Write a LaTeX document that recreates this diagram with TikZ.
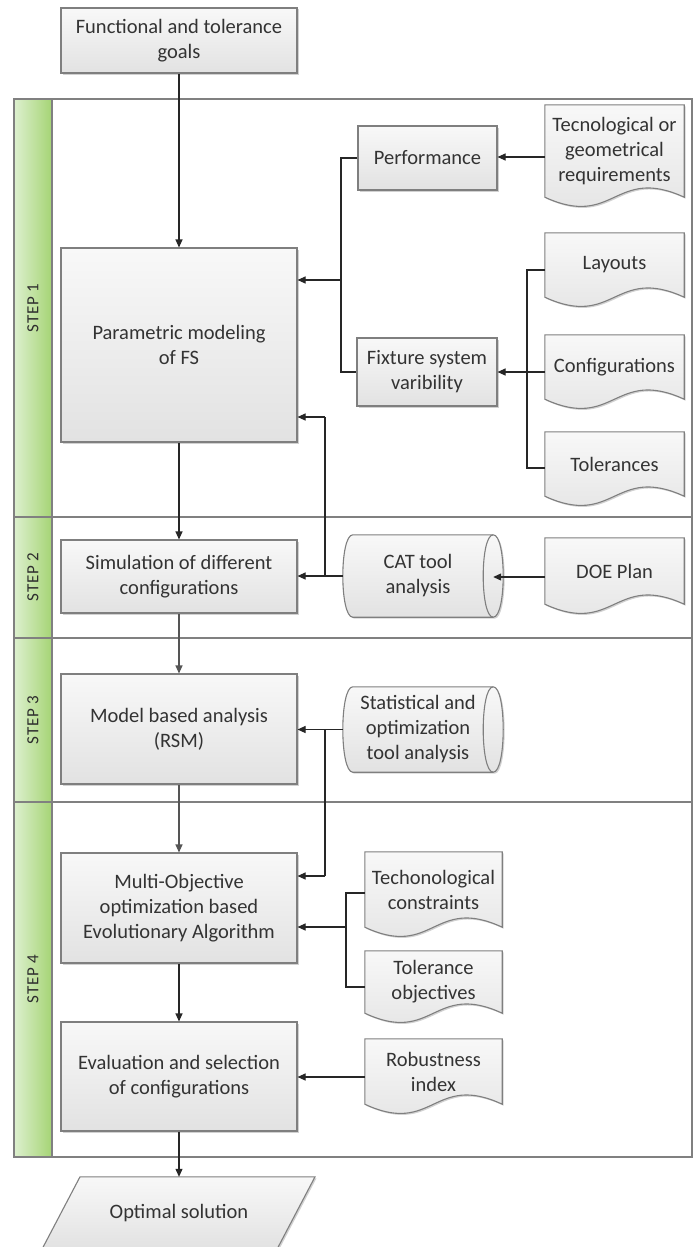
\documentclass[tikz,border=0pt]{standalone}
\usepackage{fontspec}
\setmainfont{Carlito}
\newfontfamily\stepfont[LetterSpace=5]{Carlito}
\usetikzlibrary{arrows.meta,calc,shadows}
\definecolor{bord}{HTML}{7F7F7F}
\definecolor{txt}{HTML}{333333}
\definecolor{ftop}{HTML}{F8F8F8}
\definecolor{fbot}{HTML}{E2E2E2}
\definecolor{gleft}{HTML}{DDF0CF}
\definecolor{gright}{HTML}{A5D474}
\definecolor{lanec}{HTML}{808080}
\definecolor{conc}{HTML}{262626}
\definecolor{conc2}{HTML}{555555}
\newcommand\bodyfont{\fontsize{20.5}{25}\selectfont}
\pgfdeclarelayer{bg}
\pgfdeclarelayer{shp}
\pgfsetlayers{bg,shp,main}
\tikzset{
  shad/.style={drop shadow={shadow xshift=1.5pt,shadow yshift=-1.5pt,fill=black,opacity=0.18}},
  box/.style={draw=bord,line width=1.1pt,top color=ftop,bottom color=fbot,shad,
    minimum width=236pt,inner sep=2pt,align=center,font=\bodyfont,text=txt},
  txtnode/.style={inner sep=0pt,align=center,font=\bodyfont,text=txt},
  shapesty/.style={draw=bord,line width=1.1pt,top color=ftop,bottom color=fbot,shad},
  cylline/.style={draw=bord,line width=1.1pt},
  lanesty/.style={draw=lanec,line width=1.1pt},
  conn/.style={draw=conc,line width=1.1pt},
  arr/.style={conn,-{Triangle[length=8pt,width=7pt]}},
  steplbl/.style={rotate=90,font=\stepfont\fontsize{17}{19}\selectfont,text=txt!90!black,inner sep=0pt}
}
\newcommand\docpath[1]{%
  \path[shapesty] (#1.north west) -- (#1.north east) -- (#1.south east)
    .. controls ($(#1.south)+(0,-32)$) and ($(#1.south)+(0,32)$) .. (#1.south west) -- cycle;}
\newcommand\cylpath[1]{%
  \path[shapesty] ($(#1.north west)+(10,0)$) -- (#1.north east)
    .. controls ($(#1.north east)+(13.33,0)$) and ($(#1.south east)+(13.33,0)$) .. (#1.south east)
    -- ($(#1.south west)+(10,0)$)
    .. controls ($(#1.south west)+(-3.33,0)$) and ($(#1.north west)+(-3.33,0)$) .. cycle;
  \draw[cylline] (#1.north east) .. controls ($(#1.north east)+(-13.33,0)$) and ($(#1.south east)+(-13.33,0)$) .. (#1.south east);}
\begin{document}
\begin{tikzpicture}[x=1pt,y=-1pt]
\useasboundingbox (0,0) rectangle (694,1247);

% swimlane container
\begin{pgfonlayer}{bg}
  \fill[white] (0,0) rectangle (694,1247);
  \fill[left color=gleft,right color=gright] (14,99) rectangle (52,1157);
  \draw[lanesty] (14,99) rectangle (692,1157);
  \draw[lanesty] (52,99) -- (52,1157);
  \draw[lanesty] (14,517) -- (692,517);
  \draw[lanesty] (14,638) -- (692,638);
  \draw[lanesty] (14,802) -- (692,802);
\end{pgfonlayer}
\node[steplbl] (s1) at (33,308) {STEP 1};
\node[steplbl] (s2) at (33,577) {STEP 2};
\node[steplbl] (s3) at (33,720) {STEP 3};
\node[steplbl] (s4) at (33,979) {STEP 4};

% process boxes
\node[box,minimum height=65pt] (goals) at (179,40.5) {Functional and tolerance\\goals};
\node[box,minimum height=194pt] (param) at (179,345) {Parametric modeling\\of FS};
\node[box,minimum height=73pt] (sim) at (179,576.5) {Simulation of different\\configurations};
\node[box,minimum height=110pt] (model) at (179,729) {Model based analysis\\(RSM)};
\node[box,minimum height=110pt] (multi) at (179,908) {Multi-Objective\\optimization based\\Evolutionary Algorithm};
\node[box,minimum height=109pt] (eval) at (179,1076.5) {Evaluation and selection\\of configurations};
\node[box,minimum width=139pt,minimum height=64pt] (perf) at (427.5,158) {Performance};
\node[box,minimum width=140pt,minimum height=68pt] (fix) at (427,372) {Fixture system\\varibility};

% documents
\node[txtnode,minimum width=139pt,minimum height=92pt] (tec) at (614.5,151) {Tecnological or\\geometrical\\requirements};
\node[txtnode,minimum width=139pt,minimum height=64pt] (lay) at (614.5,265) {Layouts};
\node[txtnode,minimum width=139pt,minimum height=64pt] (conf) at (614.5,367) {Configurations};
\node[txtnode,minimum width=139pt,minimum height=64pt] (tol) at (614.5,464) {Tolerances};
\node[txtnode,minimum width=139pt,minimum height=66pt] (doe) at (614.5,571) {DOE Plan};
\node[txtnode,minimum width=137pt,minimum height=75pt] (techc) at (433.5,889.5) {Techonological\\constraints};
\node[txtnode,minimum width=137pt,minimum height=62pt] (tolo) at (433.5,982) {Tolerance\\objectives};
\node[txtnode,minimum width=137pt,minimum height=65pt] (rob) at (433.5,1071.5) {Robustness\\index};
\begin{pgfonlayer}{shp}
  \docpath{tec}\docpath{lay}\docpath{conf}\docpath{tol}\docpath{doe}
  \docpath{techc}\docpath{tolo}\docpath{rob}
\end{pgfonlayer}

% stored data (cylinders)
\node[txtnode,minimum width=150pt,minimum height=82pt] (cat) at (418,576) {CAT tool\\analysis};
\node[txtnode,minimum width=150pt,minimum height=85pt] (stat) at (418,729.5) {Statistical and\\optimization\\tool analysis};
\begin{pgfonlayer}{shp}
  \cylpath{cat}\cylpath{stat}
\end{pgfonlayer}

% output
\node[txtnode,minimum width=200pt,minimum height=72pt] (opt) at (179,1213) {Optimal solution};
\begin{pgfonlayer}{shp}
  \path[shapesty] ($(opt.north)+(-99,0)$) -- ($(opt.north)+(136,0)$) -- ($(opt.south)+(98,0)$) -- ($(opt.south)+(-137,0)$) -- cycle;
\end{pgfonlayer}

% connection points on documents
\coordinate (tecc) at ([yshift=-6pt]tec.west);
\coordinate (layc) at ([yshift=-5pt]lay.west);
\coordinate (confc) at ([yshift=-5pt]conf.west);
\coordinate (tolc) at ([yshift=-4pt]tol.west);
\coordinate (doec) at ([yshift=-6pt]doe.west);
\coordinate (techcc) at ([yshift=-3.5pt]techc.west);
\coordinate (toloc) at ([yshift=-5pt]tolo.west);
\coordinate (robc) at ([yshift=-5.5pt]rob.west);
% bus coordinates
\coordinate (b1m) at (341,280);
\coordinate (b1x) at (341,0);
\coordinate (b2x) at (527,0);
\coordinate (b3t) at (325,417);
\coordinate (b4b) at (325,876);
\coordinate (b5m) at (346,927);

% main flow
\draw[arr] (goals) -- (param);
\draw[arr] (param) -- (sim);
\draw[arr,draw=conc2] (sim) -- (model);
\draw[arr,draw=conc2] (model) -- (multi);
\draw[arr] (multi) -- (eval);
\draw[arr] (eval) -- (opt);

% step 1 inputs
\draw[arr] (tecc) -- (tecc -| perf.east);
\draw[conn] (perf.west) -- (perf.west -| b1x) -- (fix.west -| b1x) -- (fix.west);
\draw[arr] (b1m) -- (b1m -| param.east);
\draw[conn] (layc) -- (layc -| b2x) -- (tolc -| b2x) -- (tolc);
\draw[arr] (confc) -- (confc -| fix.east);

% step 2
\draw[arr] (doec) -- (doec -| cat.east);
\draw[conn] (cat.west) -- (cat.west -| b3t) -- (b3t);
\draw[arr] (b3t) -- (b3t -| param.east);
\draw[arr] (cat.west -| b3t) -- (cat.west -| sim.east);

% step 3
\draw[conn] (stat.west) -- (stat.west -| b4b) -- (b4b);
\draw[arr] (stat.west -| b4b) -- (stat.west -| model.east);
\draw[arr] (b4b) -- (b4b -| multi.east);

% step 4
\draw[conn] (techcc) -- (techcc -| b5m) -- (toloc -| b5m) -- (toloc);
\draw[arr] (b5m) -- (b5m -| multi.east);
\draw[arr] (robc) -- (robc -| eval.east);
\end{tikzpicture}
\end{document}
